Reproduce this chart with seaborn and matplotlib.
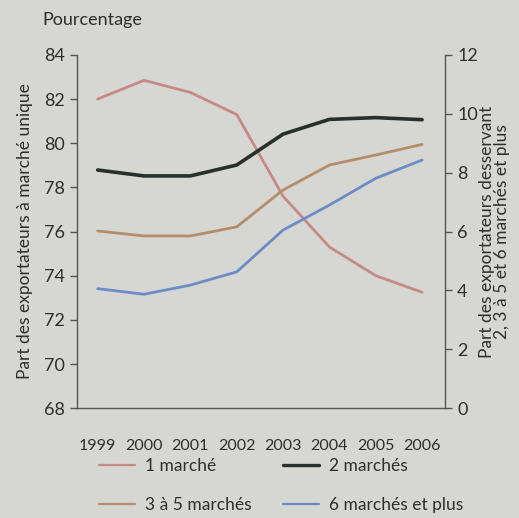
import matplotlib
matplotlib.use("Agg")
import matplotlib.pyplot as plt
from matplotlib.ticker import FixedLocator, NullFormatter
from matplotlib.lines import Line2D
import seaborn as sns
import pandas as pd

years = ["1999", "2000", "2001", "2002", "2003", "2004", "2005", "2006"]
un_marche = [82.0, 82.85, 82.3, 81.3, 77.6, 75.3, 74.0, 73.25]
deux_marches = [8.09, 7.89, 7.89, 8.26, 9.31, 9.81, 9.87, 9.80]
trois_cinq = [6.02, 5.85, 5.85, 6.16, 7.41, 8.26, 8.60, 8.96]
six_plus = [4.06, 3.87, 4.18, 4.63, 6.05, 6.90, 7.81, 8.43]

names = ["1 marché", "2 marchés", "3 à 5 marchés", "6 marchés et plus"]
colors = {"1 marché": "#c68a86", "2 marchés": "#27302c",
          "3 à 5 marchés": "#b48d6c", "6 marchés et plus": "#6d8cc6"}

sns.set_theme(style="white")
plt.rcParams["font.family"] = ["Lato", "DejaVu Sans"]
bg = "#d6d6d3"
plt.rcParams["axes.facecolor"] = bg
plt.rcParams["figure.facecolor"] = bg
txt = "#2e2e2e"

fig = plt.figure(figsize=(5.19, 5.18), dpi=100)
ax = fig.add_axes([0.148, 0.212, 0.71, 0.682])
ax2 = ax.twinx()

x = list(range(len(years)))
df_left = pd.DataFrame({"x": x, "v": un_marche, "s": names[0]})
sns.lineplot(data=df_left, x="x", y="v", hue="s", palette=colors, ax=ax,
             linewidth=2.0, legend=False)

df_right = pd.concat([
    pd.DataFrame({"x": x, "v": deux_marches, "s": names[1]}),
    pd.DataFrame({"x": x, "v": trois_cinq, "s": names[2]}),
    pd.DataFrame({"x": x, "v": six_plus, "s": names[3]}),
])
sns.lineplot(data=df_right, x="x", y="v", hue="s", palette=colors, ax=ax2,
             linewidth=2.0, legend=False)
for ln in ax2.get_lines():
    if ln.get_color() == colors["2 marchés"]:
        ln.set_linewidth(2.6)

ax.set_xlim(-0.45, 7.5)
ax.set_ylim(68, 84)
ax2.set_ylim(0, 12)
ax.set_yticks(range(68, 85, 2))
ax2.set_yticks(range(0, 13, 2))
ax.set_xticks(x)
ax.set_xticklabels(years)
ax.xaxis.set_minor_locator(FixedLocator([i + 0.5 for i in range(7)]))
ax.xaxis.set_minor_formatter(NullFormatter())
ax.tick_params(axis="x", which="major", length=0, pad=22, labelsize=11.5, colors=txt)
ax.tick_params(axis="x", which="minor", length=5, width=1, direction="out", color="#555555")
ax.tick_params(axis="y", length=5, width=1, direction="out", labelsize=13, colors=txt, color="#555555")
ax2.tick_params(axis="y", length=5, width=1, direction="out", labelsize=13, colors=txt, color="#555555")

for a in (ax, ax2):
    a.set_xlabel("")
    a.spines["top"].set_visible(False)
    for s in ("left", "right", "bottom"):
        a.spines[s].set_color("#555555")
        a.spines[s].set_linewidth(1)
ax.spines["right"].set_visible(False)
ax2.spines["left"].set_visible(False)
ax2.spines["bottom"].set_visible(False)

ax.set_ylabel("Part des exportateurs à marché unique", fontsize=12.5, color=txt, labelpad=8)
ax2.set_ylabel("Part des exportateurs desservant\n2, 3 à 5 et 6 marchés et plus",
               fontsize=12.5, color=txt, rotation=90, labelpad=1, linespacing=0.9)
fig.text(0.082, 0.962, "Pourcentage", fontsize=13, color=txt, va="center", ha="left")

order = ["1 marché", "3 à 5 marchés", "2 marchés", "6 marchés et plus"]
handles = [Line2D([], [], color=colors[n], linewidth=2.4 if n == "2 marchés" else 1.6) for n in order]
fig.legend(handles, order, ncol=2, loc="lower left", bbox_to_anchor=(0.16, -0.02),
           frameon=False, fontsize=12.5, handlelength=2.1, columnspacing=1.8,
           labelspacing=1.3, handletextpad=0.55, labelcolor=txt)

fig.savefig("out.png", dpi=100, facecolor=bg)
